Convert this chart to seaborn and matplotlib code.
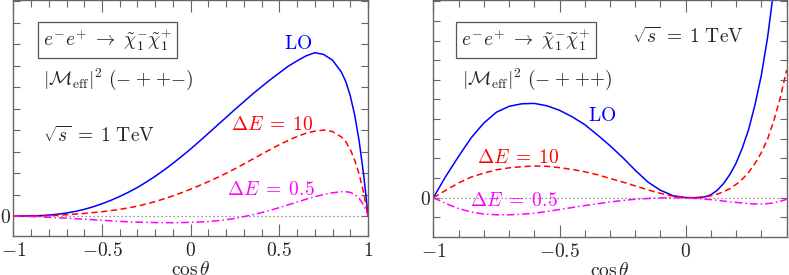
import matplotlib
matplotlib.use("Agg")
import matplotlib.pyplot as plt
import pandas as pd
import seaborn as sns

# left panel: (- + + -), x = cos(theta) from -1 to 1
left_x = [-1, -0.95, -0.9, -0.85, -0.8, -0.75, -0.7, -0.65, -0.6, -0.55, -0.5, -0.45,
          -0.4, -0.35, -0.3, -0.25, -0.2, -0.15, -0.1, -0.05, 0, 0.05, 0.1, 0.15, 0.2,
          0.25, 0.3, 0.35, 0.4, 0.45, 0.5, 0.55, 0.6, 0.65, 0.7, 0.75, 0.8, 0.85, 0.875,
          0.9, 0.925, 0.95, 0.975, 0.99, 1.0]
left_lo = [0, 0.001, 0.006, 0.02, 0.045, 0.085, 0.14, 0.215, 0.31, 0.43, 0.57, 0.73,
           0.91, 1.11, 1.33, 1.58, 1.85, 2.14, 2.45, 2.78, 3.12, 3.48, 3.85, 4.22, 4.59,
           4.96, 5.32, 5.68, 6.02, 6.35, 6.66, 6.97, 7.22, 7.45, 7.6, 7.52, 7.25, 6.7,
           6.25, 5.6, 4.7, 3.5, 1.95, 0.85, 0.0]
left_de10 = [0, 0.0, 0.003, 0.01, 0.02, 0.04, 0.06, 0.09, 0.12, 0.16, 0.2, 0.25, 0.31,
             0.38, 0.46, 0.56, 0.67, 0.8, 0.94, 1.09, 1.25, 1.42, 1.6, 1.79, 1.99, 2.2,
             2.42, 2.65, 2.88, 3.1, 3.32, 3.52, 3.7, 3.85, 3.95, 4.0, 3.93, 3.68, 3.45,
             3.1, 2.6, 1.95, 1.1, 0.45, 0.0]
left_de05 = [0, -0.01, -0.025, -0.04, -0.06, -0.08, -0.1, -0.125, -0.15, -0.175, -0.2,
             -0.225, -0.25, -0.27, -0.285, -0.297, -0.305, -0.31, -0.31, -0.305, -0.295,
             -0.28, -0.255, -0.22, -0.175, -0.11, -0.03, 0.06, 0.16, 0.27, 0.39, 0.52,
             0.65, 0.78, 0.9, 1.0, 1.08, 1.13, 1.13, 1.1, 1.0, 0.82, 0.52, 0.25, 0.0]

# right panel: (- + + +), x = cos(theta) from -1 to 0.4
right_x = [-1, -0.95, -0.9, -0.85, -0.8, -0.75, -0.7, -0.65, -0.6, -0.55, -0.5, -0.45,
           -0.4, -0.35, -0.3, -0.25, -0.2, -0.15, -0.1, -0.05, 0, 0.025, 0.05, 0.075,
           0.1, 0.125, 0.15, 0.175, 0.2, 0.225, 0.25, 0.275, 0.3, 0.325, 0.35, 0.375, 0.4]
right_lo = [0, 1.1, 2.1, 3.05, 3.8, 4.35, 4.65, 4.78, 4.8, 4.68, 4.45, 4.12, 3.72, 3.2,
            2.65, 2.05, 1.4, 0.8, 0.38, 0.1, 0.01, 0.0, 0.0, 0.04, 0.15, 0.38, 0.72,
            1.18, 1.77, 2.55, 3.5, 4.75, 6.25, 8.2, 10.7, 13.5, 16.5]
right_de10 = [0, 0.38, 0.75, 1.05, 1.25, 1.42, 1.52, 1.58, 1.61, 1.6, 1.53, 1.44, 1.32,
              1.17, 0.98, 0.8, 0.6, 0.4, 0.22, 0.08, 0.0, 0.0, 0.02, 0.05, 0.1, 0.18,
              0.3, 0.46, 0.68, 0.95, 1.3, 1.75, 2.3, 3.0, 3.95, 5.1, 6.5]
right_de05 = [0, -0.3, -0.55, -0.73, -0.83, -0.87, -0.87, -0.84, -0.79, -0.7, -0.6, -0.5,
              -0.4, -0.31, -0.22, -0.14, -0.08, -0.04, -0.01, 0.0, -0.02, -0.03, -0.05,
              -0.07, -0.1, -0.13, -0.17, -0.21, -0.24, -0.27, -0.3, -0.32, -0.32, -0.3,
              -0.26, -0.18, -0.08]

process_label = (r"$e^{{-}}e^{{+}}\;\rightarrow\;"
                 r"\tilde{\chi}^{{-}}_1\tilde{\chi}^{{+}}_1$")
energy_label = r"$\sqrt{s}\;=\;1\ \mathrm{TeV}$"
left_amp_label = r"$|\mathcal{M}_{\rm eff}|^2\ ({-}\;{+}\;{+}{-})$"
right_amp_label = r"$|\mathcal{M}_{\rm eff}|^2\ ({-}\;{+}\;{+}{+})$"
lo_label = r"$\mathrm{LO}$"
de10_label = r"$\Delta E\;=\;10$"
de05_label = r"$\Delta E\;=\;0.5$"


def draw_panel(ax, x, lo, de10, de05, xlim, ylim, xmajor, ymin_tick):
    df = pd.DataFrame({"x": x, "lo": lo, "de10": de10, "de05": de05})
    ax.axhline(0, color="#777777", linestyle=(0, (1, 2.2)), linewidth=0.9, zorder=1)
    sns.lineplot(data=df, x="x", y="lo", ax=ax, color="#0000ff", linewidth=1.1)
    sns.lineplot(data=df, x="x", y="de10", ax=ax, color="#ff0000", linewidth=1.1,
                 linestyle=(0, (4, 2.4)))
    sns.lineplot(data=df, x="x", y="de05", ax=ax, color="#ff00ff", linewidth=1.1,
                 linestyle=(0, (5, 2, 1, 2)))
    ax.set_xlim(*xlim)
    ax.set_ylim(*ylim)
    ax.set_xticks(xmajor)
    ax.set_xticklabels(["$%g$" % v for v in xmajor])
    minor = [round(-1 + 0.1 * i, 1) for i in range(int(round((xlim[1] + 1) * 10)) + 1)]
    ax.set_xticks(minor, minor=True)
    yt = list(range(ymin_tick, 11))
    ax.set_yticks(yt)
    ax.set_yticklabels(["$0$" if v == 0 else "" for v in yt])
    ax.tick_params(which="both", direction="in", top=True, right=True,
                   color="#666666", width=0.8, labelsize=14, pad=4)
    ax.tick_params(axis="x", which="major", length=8.5)
    ax.tick_params(axis="x", which="minor", length=5)
    ax.tick_params(axis="y", which="major", length=5, pad=1.5)
    for s in ax.spines.values():
        s.set_color("#666666")
        s.set_linewidth(1.0)
    ax.set_xlabel(r"$\cos\theta$", fontsize=14, labelpad=1)
    ax.set_ylabel("")


sns.set_theme(style="ticks")
plt.rcParams["mathtext.fontset"] = "cm"
plt.rcParams["font.family"] = ["DejaVu Serif"]

fig = plt.figure(figsize=(7.89, 2.75), dpi=100)
ax1 = fig.add_axes([0.0169, 0.1418, 0.4495, 0.8572])
ax2 = fig.add_axes([0.5492, 0.1382, 0.4486, 0.8608])

draw_panel(ax1, left_x, left_lo, left_de10, left_de05, (-1, 1), (-0.93, 10.04),
           [-1, -0.5, 0, 0.5, 1], 0)
draw_panel(ax2, right_x, right_lo, right_de10, right_de05, (-1, 0.4025), (-2.0, 10.05),
           [-1, -0.5, 0], -1)

box = dict(boxstyle="square,pad=0.25", facecolor="white", edgecolor="#555555",
           linewidth=0.9)
fs = 14

ax1.text(0.2655, 0.832, process_label, transform=ax1.transAxes, ha="center",
         va="center", fontsize=fs, bbox=box)
ax1.text(0.083, 0.665, left_amp_label, transform=ax1.transAxes, ha="left", va="center",
         fontsize=fs)
ax1.text(0.083, 0.425, energy_label, transform=ax1.transAxes, ha="left", va="center",
         fontsize=fs)
ax1.text(0.803, 0.816, lo_label, transform=ax1.transAxes, ha="center",
         va="center", fontsize=fs, color="#0000ff")
ax1.text(0.731, 0.47, de10_label, transform=ax1.transAxes, ha="center",
         va="center", fontsize=fs, color="#ff0000")
ax1.text(0.725, 0.195, de05_label, transform=ax1.transAxes, ha="center",
         va="center", fontsize=fs, color="#ff00ff")

ax2.text(0.262, 0.833, process_label, transform=ax2.transAxes, ha="center",
         va="center", fontsize=fs, bbox=box)
ax2.text(0.72, 0.845, energy_label, transform=ax2.transAxes, ha="center", va="center",
         fontsize=fs)
ax2.text(0.08, 0.666, right_amp_label, transform=ax2.transAxes, ha="left", va="center",
         fontsize=fs)
ax2.text(0.478, 0.51, lo_label, transform=ax2.transAxes, ha="center",
         va="center", fontsize=fs, color="#0000ff")
ax2.text(0.239, 0.335, de10_label, transform=ax2.transAxes, ha="center",
         va="center", fontsize=fs, color="#ff0000")
ax2.text(0.229, 0.152, de05_label, transform=ax2.transAxes, ha="center",
         va="center", fontsize=fs, color="#ff00ff")

fig.savefig("out.png", dpi=100)
plt.close(fig)
